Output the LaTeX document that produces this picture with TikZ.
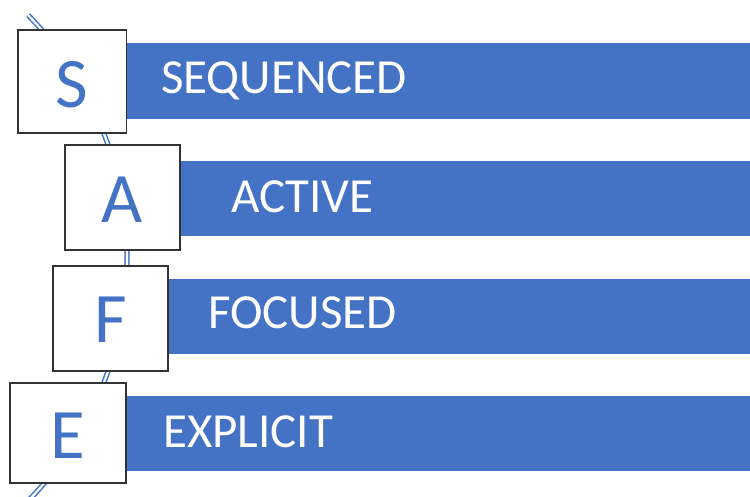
\documentclass[tikz,border=0pt]{standalone}
\usepackage{fontspec}
\setmainfont{Carlito}
\definecolor{barblue}{HTML}{4472C4}
\begin{document}
\begin{tikzpicture}[x=1pt,y=-1pt,
  bar/.style={fill=barblue,draw=none},
  letterbox/.style={fill=white,draw=black!80,line width=1.3pt},
  bartext/.style={text=white,font=\fontsize{49}{52}\selectfont,anchor=base west,inner sep=0pt},
  lettertext/.style={text=barblue,font=\fontsize{71}{74}\selectfont,anchor=base,inner sep=0pt},
  rail/.style={draw=barblue,double=white,line width=1.5pt,double distance=2.2pt}
]
\useasboundingbox (0,0) rectangle (750,496);
% curved rail behind the letter boxes
\draw[rail] (-220.7,258) ++(-44.3:347.7) arc[start angle=-44.3,end angle=48,radius=347.7];
% bars
\fill[bar] (127,43) rectangle (750,118.5);
\fill[bar] (180,160.5) rectangle (750,236);
\fill[bar] (168,278.5) rectangle (750,353.5);
\fill[bar] (126,396) rectangle (750,471);
% bar labels
\node[bartext] (tS) at (161,93.5) {SEQUENCED};
\node[bartext] (tA) at (231,212.5) {ACTIVE};
\node[bartext] (tF) at (208,328.5) {FOCUSED};
\node[bartext] (tE) at (163,447.5) {EXPLICIT};
% letter boxes
\draw[letterbox] (18,30) rectangle (126.5,133);
\draw[letterbox] (65,145) rectangle (180,250);
\draw[letterbox] (53,266) rectangle (168,371);
\draw[letterbox] (10,383) rectangle (126,483);
\node[lettertext] (lS) at (72,107) {S};
\node[lettertext] (lA) at (122.5,222) {A};
\node[lettertext] (lF) at (110.5,342) {F};
\node[lettertext] (lE) at (68,458) {E};
\end{tikzpicture}
\end{document}
